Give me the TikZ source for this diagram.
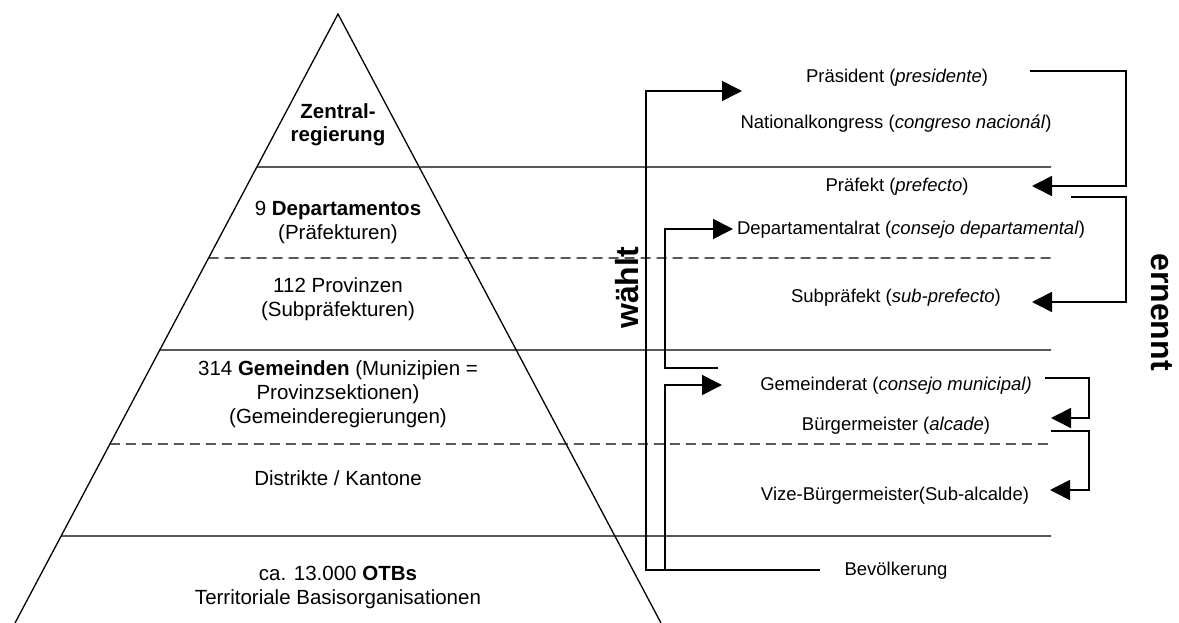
\documentclass[tikz,border=0pt]{standalone}
\usepackage{fontspec}
\setmainfont{Liberation Sans}
\usetikzlibrary{arrows.meta,calc}

\begin{document}
\begin{tikzpicture}[x=1pt,y=-1pt,line width=1.3pt,
    pyr/.style = {align=center,font=\fontsize{20.5}{24}\selectfont,inner sep=0pt},
    org/.style = {font=\fontsize{18.5}{22}\selectfont,inner sep=0pt},
    big/.style = {font=\fontsize{32}{36}\selectfont\bfseries,inner sep=0pt},
    sub/.style = {dash pattern=on 10pt off 6pt},
    arr/.style = {line width=1.6pt,-{Triangle[length=20pt,width=20pt]}}]
    \useasboundingbox (0,0) rectangle (1179,623);
    \coordinate (top) at (338,14);
    \coordinate (bl) at (15,623);
    \coordinate (br) at (661,623);
    \draw (bl) -- (top) -- (br);
    \foreach \y/\s in {167/solid,258/sub,350/solid,444/sub,536/solid}
        \draw[\s] ($(top)!{(\y-14)/609}!(bl)$) -- (1051,\y);

    \node[pyr,font=\fontsize{20.5}{23}\selectfont\bfseries] (zentral) at (338,125) {Zentral-\\regierung};
    \node[pyr] (dep) at (338,222) {9 \textbf{Departamentos}\\(Präfekturen)};
    \node[pyr] (prov) at (338,299) {112 Provinzen\\(Subpräfekturen)};
    \node[pyr] (gem) at (338,394) {314 \textbf{Gemeinden} (Munizipien =\\Provinzsektionen)\\(Gemeinderegierungen)};
    \node[pyr] (distr) at (338,478) {Distrikte / Kantone};
    \node[pyr] (otb) at (338,587) {ca. 13.000 \textbf{OTBs}\\Territoriale Basisorganisationen};

    \node[org] (praes) at (897,78) {Präsident (\textit{presidente})};
    \node[org] (natkon) at (896,124) {Nationalkongress (\textit{congreso nacionál})};
    \node[org] (praef) at (897,187) {Präfekt (\textit{prefecto})};
    \node[org] (deprat) at (911,230) {Departamentalrat (\textit{consejo departamental})};
    \node[org] (subpr) at (896,298) {Subpräfekt (\textit{sub-prefecto})};
    \node[org] (gemrat) at (896,386) {Gemeinderat (\textit{consejo municipal)}};
    \node[org] (buerg) at (896,426) {Bürgermeister (\textit{alcade})};
    \node[org] (vize) at (895,496) {Vize-Bürgermeister(Sub-alcalde)};
    \node[org] (bevoelk) at (896,571) {Bevölkerung};

    \node[big,rotate=90] (waehlt) at (627,288) {wählt};
    \node[big,rotate=-90] (ernennt) at (1162,312) {ernennt};

    \coordinate (pr-out) at (1030,71);
    \coordinate (pf-in) at (1032,186);
    \coordinate (pf-out) at (1071,197);
    \coordinate (sp-in) at (1032,302);
    \coordinate (gr-out) at (1045,378);
    \coordinate (bm-in) at (1051,418);
    \coordinate (bm-out) at (1051,431);
    \coordinate (vz-in) at (1050,490);
    \draw[arr] (pr-out) -- ++(96,0) |- (pf-in);
    \draw[arr] (pf-out) -- ++(55,0) |- (sp-in);
    \draw[arr] (gr-out) -- ++(44,0) |- (bm-in);
    \draw[arr] (bm-out) -- ++(38,0) |- (vz-in);

    \coordinate (bv-out) at (820,570);
    \coordinate (bv-in) at (665,570);
    \coordinate (pr-in) at (742,91);
    \coordinate (dr-in) at (733,229);
    \coordinate (gr-in) at (722,385);
    \coordinate (gr-up) at (718,368);
    \draw[arr] (bv-out) -- ++(-174,0) |- (pr-in);
    \draw[arr] (bv-in) |- (gr-in);
    \draw[arr] (gr-up) -- ++(-53,0) |- (dr-in);
\end{tikzpicture}
\end{document}
